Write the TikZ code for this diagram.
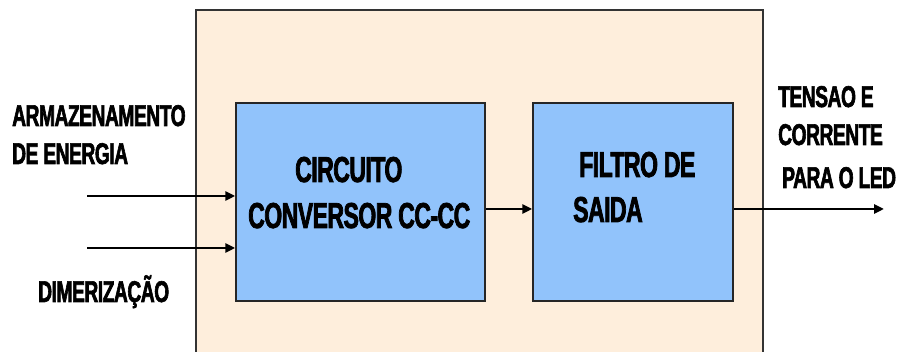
\documentclass[tikz,border=0pt]{standalone}
\usepackage{fontspec}
\setmainfont{Liberation Sans}[FakeStretch=0.64, LetterSpace=-1.5, BoldFeatures={FakeBold=2}]
\usetikzlibrary{positioning, arrows.meta}
\usepackage{xcolor}
\definecolor{peach}{HTML}{FEEEDC}
\definecolor{lightblue}{HTML}{91C3FB}
\tikzset{
  block/.style={draw=black!85, line width=1.5pt, fill=lightblue, inner sep=0pt, minimum height=198pt},
  sidetext/.style={anchor=base west, inner sep=0pt, font=\bfseries\fontsize{30}{32}\selectfont},
  blocktext/.style={anchor=base west, inner sep=0pt, font=\bfseries\fontsize{36}{40}\selectfont},
  flow/.style={line width=2.5pt, -{Triangle[length=10pt,width=9pt]}}
}

\begin{document}
\begin{tikzpicture}[x=1pt, y=-1pt]
  \clip (0,0) rectangle (898,352);
  % outer frame
  \draw[draw=black!80, line width=1.2pt, fill=peach] (196,10) rectangle (763,400);
  % blocks
  \node[block, minimum width=249pt] (conv) at (360.5,202) {};
  \node[block, minimum width=200pt] (filt) at (633,202) {};
  \node[blocktext] (conv1) at (295,182) {CIRCUITO};
  \node[blocktext] (conv2) at (248,228) {CONVERSOR CC-CC};
  \node[blocktext] (filt1) at (579,177) {FILTRO DE};
  \node[blocktext] (filt2) at (573,222) {SAIDA};
  % inputs and output
  \coordinate (in1) at (87,196);
  \coordinate (in2) at (87,248);
  \coordinate (ledout) at (884,209);
  \draw[flow] (in1) -- (in1 -| conv.west);
  \draw[flow] (in2) -- (in2 -| conv.west);
  \draw[flow] ([yshift=-7pt]conv.east) -- ([yshift=-7pt]filt.west);
  \draw[flow] ([yshift=-7pt]filt.east) -- (ledout);
  % labels
  \node[sidetext] (arm1) at (12,126) {ARMAZENAMENTO};
  \node[sidetext] (arm2) at (12,164) {DE ENERGIA};
  \node[sidetext] (dim) at (38,302) {DIMERIZAÇÃO};
  \node[sidetext] (out1) at (778,107) {TENSAO E};
  \node[sidetext] (out2) at (778,145) {CORRENTE};
  \node[sidetext] (out3) at (782,188) {PARA O LED};
\end{tikzpicture}
\end{document}
